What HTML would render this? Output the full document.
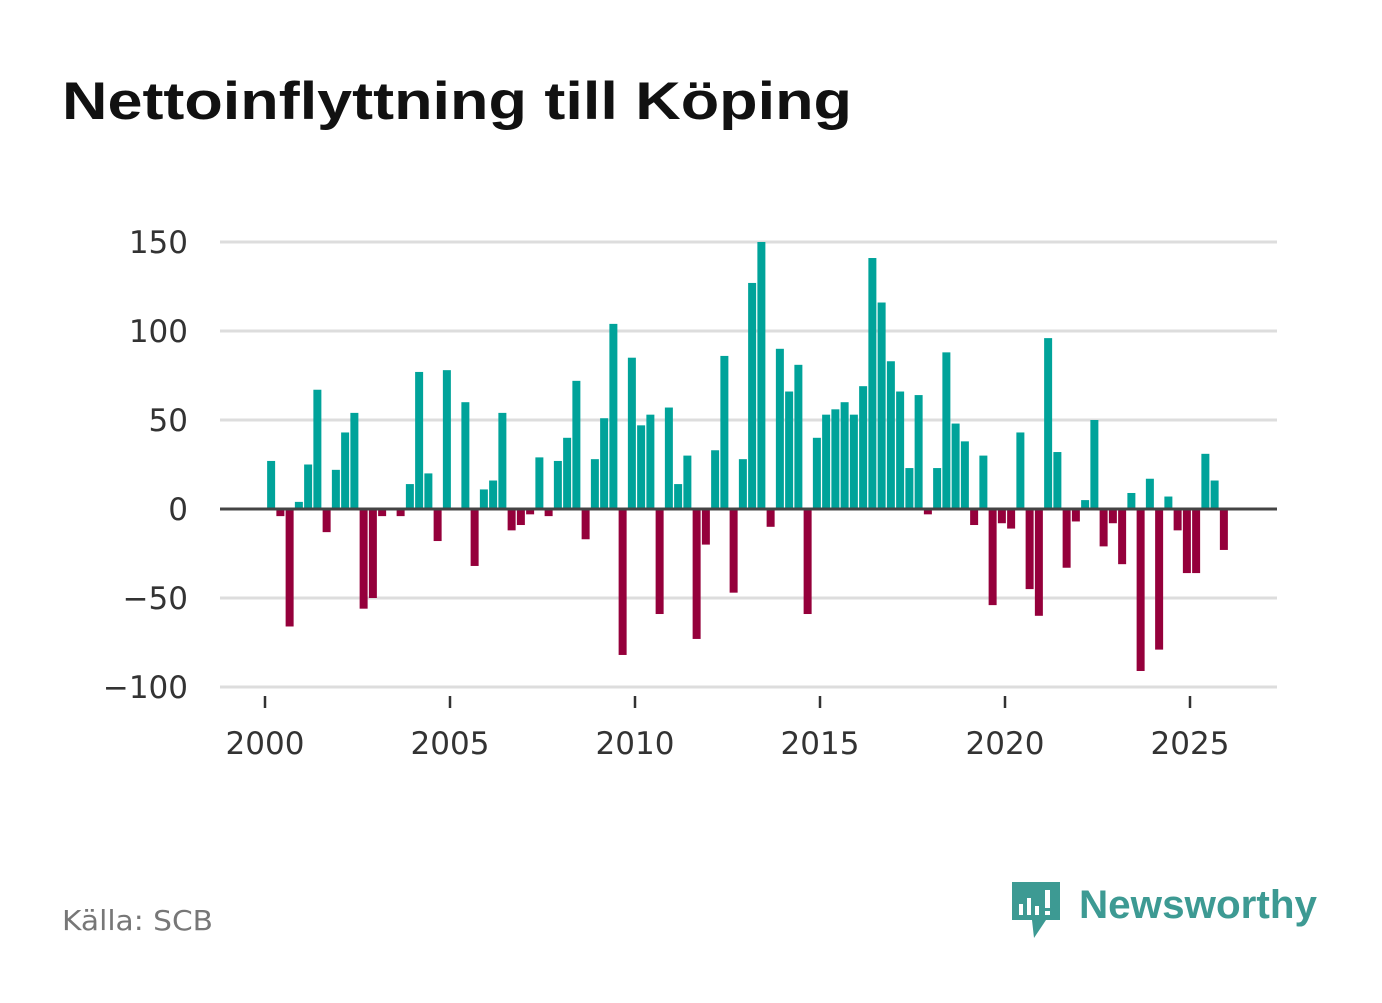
<!DOCTYPE html>
<html><head><meta charset="utf-8"><style>
body{margin:0;background:#fff;width:1382px;height:999px;overflow:hidden;font-family:"DejaVu Sans","Liberation Sans",sans-serif}
</style></head><body>
<svg width="1382" height="999">
<text x="62" y="119" font-size="53" font-weight="bold" fill="#111" textLength="790" lengthAdjust="spacingAndGlyphs" font-family="Liberation Sans, sans-serif">Nettoinflyttning till Köping</text>
<g id="grid"></g><g id="bars"></g><g id="axes"></g>
<text x="62" y="930" font-size="28" fill="#777" textLength="151" lengthAdjust="spacingAndGlyphs">Källa: SCB</text>
<g>
<path d="M1012 882h48v38h-14l-12 18l-2-18h-20z" fill="#3d9a93"/>
<rect x="1019" y="904" width="4" height="11" fill="#fff"/><rect x="1027" y="898" width="4" height="17" fill="#fff"/><rect x="1035" y="906" width="4" height="9" fill="#fff"/><rect x="1045" y="890" width="5" height="18" fill="#fff"/><rect x="1045" y="911" width="5" height="4" fill="#fff"/>
<text x="1079" y="918" font-size="40" font-weight="bold" fill="#3d9a93" font-family="Liberation Sans, sans-serif" textLength="238" lengthAdjust="spacingAndGlyphs">Newsworthy</text>
</g>
</svg>
<script>
const values=[27,-4,-66,4,25,67,-13,22,43,54,-56,-50,-4,0,-4,14,77,20,-18,78,0,60,-32,11,16,54,-12,-9,-3,29,-4,27,40,72,-17,28,51,104,-82,85,47,53,-59,57,14,30,-73,-20,33,86,-47,28,127,150,-10,90,66,81,-59,40,53,56,60,53,69,141,116,83,66,23,64,-3,23,88,48,38,-9,30,-54,-8,-11,43,-45,-60,96,32,-33,-7,5,50,-21,-8,-31,9,-91,17,-79,7,-12,-36,-36,31,16,-23];
const startYear=2000;
const yTicks=[150,100,50,0,-50,-100];
const yTickLabels=["150","100","50","0","−50","−100"];
const xTicks=[2000,2005,2010,2015,2020,2025];
const NS="http://www.w3.org/2000/svg";
const y=v=>509-v*(267/150);
const x=t=>265+(t-2000)*37;
function mk(tag,attrs,parent){const e=document.createElementNS(NS,tag);for(const k in attrs)e.setAttribute(k,attrs[k]);document.getElementById(parent).appendChild(e);return e;}
yTicks.forEach((t,i)=>{
 if(t!==0){const l=mk('line',{x1:220,x2:1277,y1:y(t),y2:y(t),stroke:'#ddd','stroke-width':3},'grid');
 
 }
 const tx=mk('text',{x:188,y:y(t)+11,'font-size':31,fill:'#333','text-anchor':'end'},'axes');
 tx.textContent=yTickLabels[i];
 
 
});
values.forEach((v,i)=>{
 const cx=x(startYear+(i+0.5)/4)+1.5;
 const r=mk('rect',{x:cx-4,y:Math.min(y(v),y(0)),width:8,height:Math.abs(y(v)-y(0)),fill:v>=0?'#00a39a':'#95003b'},'bars');
 
 
});
const z=mk('line',{x1:220,x2:1277,y1:y(0),y2:y(0),stroke:'#444','stroke-width':3},'axes');


xTicks.forEach(t=>{
 const tk=mk('line',{x1:x(t),x2:x(t),y1:696,y2:708,stroke:'#333','stroke-width':2.5},'axes');
 
 
 const tx=mk('text',{x:x(t),y:754,'font-size':31,fill:'#333','text-anchor':'middle'},'axes');
 tx.textContent=String(t);
 
 
});
</script>
</body></html>
